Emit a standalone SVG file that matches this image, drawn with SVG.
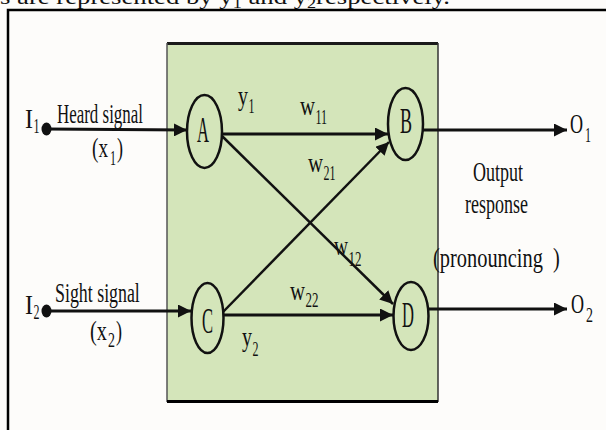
<svg xmlns="http://www.w3.org/2000/svg" width="606" height="430" viewBox="0 0 606 430">
<defs>
<style>
text{font-family:"Liberation Serif","Times New Roman",serif;fill:#111}
.lbl{font-size:27px}
.sub{font-size:20px}
.node{font-size:36px}
.ln{stroke:#111;stroke-width:3;fill:none}
.ell{stroke:#111;stroke-width:2.5;fill:none}
</style>
<marker id="arr" markerWidth="13" markerHeight="13" refX="13" refY="6.5" orient="auto" markerUnits="userSpaceOnUse"><path d="M0,0 L13,6.5 L0,13 z" fill="#111"/></marker>
</defs>
<rect x="0" y="0" width="606" height="430" fill="#fdfcfa"/>
<text x="0" y="4" style="font-size:22px" textLength="450" lengthAdjust="spacingAndGlyphs">s are represented by y<tspan dy="4" style="font-size:15px">1</tspan><tspan dy="-4"> and y</tspan><tspan dy="4" style="font-size:15px">2</tspan><tspan dy="-4">respectively.</tspan></text>
<path d="M8,432 V10 H608" fill="none" stroke="#000" stroke-width="2.5"/>
<g id="box">
<rect x="167" y="43" width="271" height="359" fill="#d4e5ba"/>
<line x1="167" y1="43.5" x2="438" y2="43.5" stroke="#1a1a1a" stroke-width="3"/>
<line x1="167" y1="43" x2="167" y2="402" stroke="#555" stroke-width="1.5"/>
<line x1="438" y1="43" x2="438" y2="402" stroke="#333" stroke-width="1.5"/>
<line x1="167" y1="401.5" x2="438" y2="401.5" stroke="#000" stroke-width="3"/>
</g>
<g id="connectors">
<line class="ln" x1="46" y1="129" x2="187" y2="130" marker-end="url(#arr)"/>
<line class="ln" x1="46" y1="311" x2="191" y2="311" marker-end="url(#arr)"/>
<line class="ln" x1="222" y1="134" x2="388" y2="134" marker-end="url(#arr)"/>
<line class="ln" x1="222" y1="136" x2="393" y2="304" marker-end="url(#arr)" style="stroke-width:2.5"/>
<line class="ln" x1="223" y1="312" x2="389" y2="142" marker-end="url(#arr)" style="stroke-width:2.5"/>
<line class="ln" x1="224" y1="315" x2="393" y2="315" marker-end="url(#arr)"/>
<line class="ln" x1="423" y1="130" x2="567" y2="130" marker-end="url(#arr)"/>
<line class="ln" x1="428" y1="309" x2="567" y2="309" marker-end="url(#arr)"/>
</g>
<g id="I1">
<ellipse cx="46.5" cy="129" rx="5" ry="6.5" fill="#111"/>
<text class="lbl" transform="translate(25,128) scale(0.89,1)">I</text>
<text class="sub" transform="translate(33.5,133) scale(0.6,1)">1</text>
<text class="lbl" transform="translate(57,123) scale(0.627,1)">Heard signal</text>
<text class="lbl" transform="translate(92,157) scale(0.71,1)">(x</text>
<text class="sub" transform="translate(110,165) scale(0.6,1)">1</text>
<text class="lbl" transform="translate(117,157) scale(0.67,1)">)</text>
</g>
<g id="I2">
<ellipse cx="46.5" cy="311" rx="5" ry="6.5" fill="#111"/>
<text class="lbl" transform="translate(25,314) scale(0.89,1)">I</text>
<text class="sub" transform="translate(33.5,319) scale(0.6,1)">2</text>
<text class="lbl" transform="translate(55,302) scale(0.662,1)">Sight signal</text>
<text class="lbl" transform="translate(90,340) scale(0.75,1)">(x</text>
<text class="sub" transform="translate(108,347) scale(0.7,1)">2</text>
<text class="lbl" transform="translate(116,340) scale(0.67,1)">)</text>
</g>
<g id="A">
<ellipse class="ell" cx="204.5" cy="131.5" rx="17.5" ry="36.5"/>
<text class="node" transform="translate(197,142) scale(0.46,1)">A</text>
</g>
<g id="B">
<ellipse class="ell" cx="405.5" cy="124" rx="17.5" ry="36"/>
<text class="node" transform="translate(400,133) scale(0.5,1)">B</text>
</g>
<g id="C">
<ellipse class="ell" cx="207.5" cy="318" rx="16" ry="35"/>
<text class="node" transform="translate(202,333) scale(0.46,1)">C</text>
</g>
<g id="D">
<ellipse class="ell" cx="411" cy="316" rx="17.5" ry="34"/>
<text class="node" transform="translate(402,327) scale(0.46,1)">D</text>
</g>
<g id="weights">
<text class="lbl" transform="translate(238,105) scale(0.74,1)">y</text>
<text class="sub" transform="translate(248.5,113) scale(0.6,1)">1</text>
<text class="lbl" transform="translate(300,115) scale(0.77,1)">w</text>
<text class="sub" transform="translate(315.5,124) scale(0.6,1)">11</text>
<text class="lbl" transform="translate(308,172) scale(0.77,1)">w</text>
<text class="sub" transform="translate(323.5,180) scale(0.6,1)">21</text>
<text class="lbl" transform="translate(334,255) scale(0.72,1)">w</text>
<text class="sub" transform="translate(348.5,266) scale(0.65,1)">12</text>
<text class="lbl" transform="translate(290,300) scale(0.77,1)">w</text>
<text class="sub" transform="translate(305.5,307) scale(0.65,1)">22</text>
<text class="lbl" transform="translate(242,346) scale(0.74,1)">y</text>
<text class="sub" transform="translate(252.5,356) scale(0.6,1)">2</text>
</g>
<g id="O1">
<text class="lbl" transform="translate(570,133) scale(0.67,1)">O</text>
<text class="sub" transform="translate(585,142) scale(0.6,1)">1</text>
</g>
<g id="O2">
<text class="lbl" transform="translate(571,313) scale(0.67,1)">O</text>
<text class="sub" transform="translate(586,322) scale(0.7,1)">2</text>
</g>
<g id="output-label">
<text class="lbl" transform="translate(473,181) scale(0.667,1)">Output</text>
<text class="lbl" transform="translate(465,213) scale(0.667,1)">response</text>
<text class="lbl" xml:space="preserve" transform="translate(433,267) scale(0.756,1)">(pronouncing  )</text>
</g>
</svg>
